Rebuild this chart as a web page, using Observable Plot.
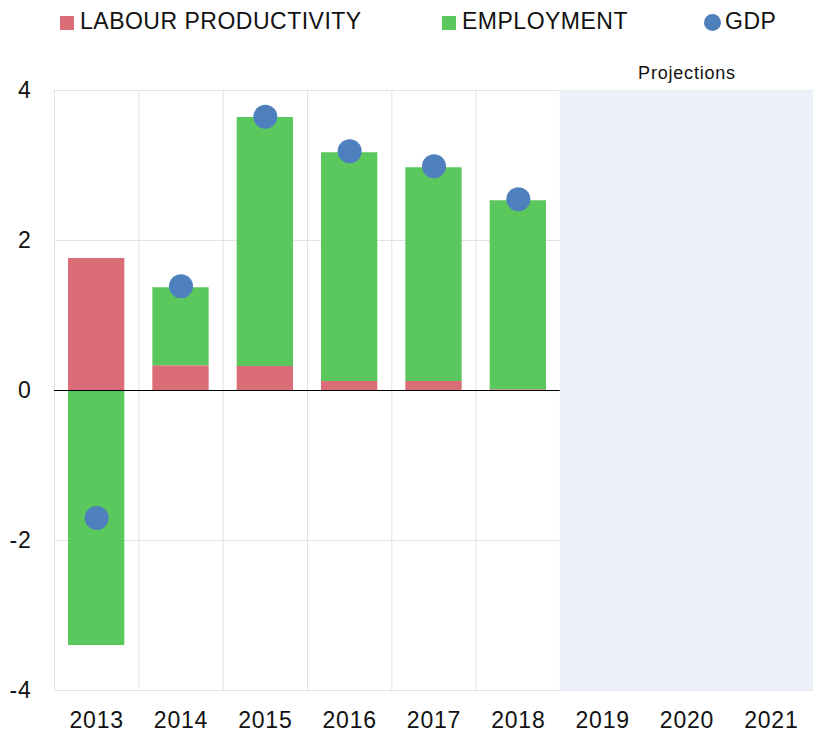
<!DOCTYPE html>
<html>
<head>
<meta charset="utf-8">
<script src="https://cdn.jsdelivr.net/npm/d3@7"></script>
<script src="https://cdn.jsdelivr.net/npm/@observablehq/plot@0.6"></script>
<style>
  html, body { margin: 0; padding: 0; background: #fff; }
  body { width: 813px; height: 733px; overflow: hidden; font-family: "Liberation Sans", Arial, sans-serif; }
  #legend { position: relative; height: 45px; font-size: 23px; color: #111; letter-spacing: 0.5px; }
  .item { position: absolute; top: 8px; display: flex; align-items: center; white-space: nowrap; }
  .sw { width: 14px; height: 14px; margin-right: 6px; margin-top: 2px; }
  .dot { width: 17px; height: 17px; border-radius: 50%; margin-right: 4px; margin-top: 1px; }
  svg text { letter-spacing: 0.8px; }
</style>
</head>
<body>
<div id="legend"></div>
<div id="chart"></div>
<script>
const years = ["2013","2014","2015","2016","2017","2018","2019","2020","2021"];
const dataYears = ["2013","2014","2015","2016","2017","2018"];
const projectionYears = ["2019","2020","2021"];
const labourProductivity = [1.76, 0.33, 0.32, 0.12, 0.12, 0.01];
const employment = [-3.40, 1.04, 3.32, 3.05, 2.85, 2.52];
const gdp = [-1.70, 1.39, 3.65, 3.19, 2.99, 2.55];
const seriesNames = ["LABOUR PRODUCTIVITY", "EMPLOYMENT", "GDP"];
const colors = ["#db6d78", "#5bc85d", "#4e80bd"];
const yTicks = [-4, -2, 0, 2, 4];

// legend
const legend = document.getElementById("legend");
const legendX = [60, 442, 704];
seriesNames.forEach((name, i) => {
  const it = document.createElement("div");
  it.className = "item";
  it.style.left = legendX[i] + "px";
  const sw = document.createElement("span");
  sw.className = i === 2 ? "dot" : "sw";
  sw.style.background = colors[i];
  it.appendChild(sw);
  const t = document.createElement("span");
  t.textContent = name;
  it.appendChild(t);
  legend.appendChild(it);
});

const stacked = [];
dataYears.forEach((y, i) => stacked.push({year: y, series: seriesNames[0], value: labourProductivity[i]}));
dataYears.forEach((y, i) => stacked.push({year: y, series: seriesNames[1], value: employment[i]}));
const gdpData = dataYears.map((y, i) => ({year: y, value: gdp[i]}));

const W = 813, H = 688, mL = 54, mR = 0;
const bw = (W - mL - mR) / years.length;

const chart = Plot.plot({
  width: W,
  height: H,
  marginLeft: mL,
  marginRight: mR,
  marginTop: 45,
  marginBottom: 43,
  style: {fontFamily: "Liberation Sans, Arial, sans-serif", background: "#fff"},
  x: {type: "band", domain: years, padding: 0, round: false, label: null},
  y: {domain: [-4, 4], label: null},
  color: {domain: seriesNames.slice(0, 2), range: colors.slice(0, 2)},
  marks: [
    Plot.ruleY(yTicks, {stroke: "#e2e2e2", strokeWidth: 1}),
    Plot.ruleX(years, {x: d => d, dx: -bw / 2, y1: -4, y2: 4, stroke: "#e2e2e2"}),
    Plot.barY(stacked, {x: "year", y: "value", fill: "series", insetLeft: 14, insetRight: 14, order: seriesNames.slice(0, 2)}),
    Plot.ruleY([0], {stroke: "#000", strokeWidth: 1.2}),
    Plot.barY(projectionYears, {x: d => d, y1: -4, y2: 4, fill: "#ecf0f8", stroke: "#ecf0f8", strokeWidth: 0.6}),
    Plot.text(["Projections"], {x: () => "2020", y: () => 4, text: d => d, dy: -17, fontSize: 18, fill: "#111"}),
    Plot.dot(gdpData, {x: "year", y: "value", r: 12, fill: colors[2]}),
    Plot.axisY({ticks: yTicks, tickSize: 0, tickPadding: 23, fontSize: 23, tickFormat: d => String(d), label: null}),
    Plot.axisX({tickSize: 0, tickPadding: 21, fontSize: 23, label: null})
  ]
});
chart.style.color = "#111";
document.getElementById("chart").appendChild(chart);
</script>
</body>
</html>
